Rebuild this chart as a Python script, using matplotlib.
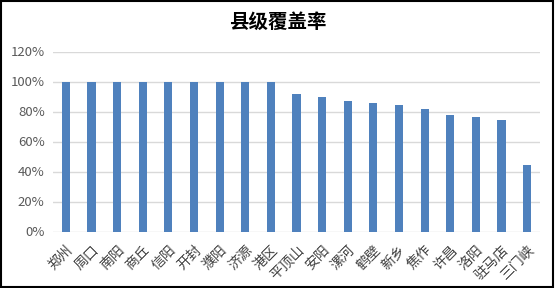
import matplotlib
matplotlib.use("Agg")
import matplotlib.pyplot as plt
from matplotlib.ticker import PercentFormatter

plt.rcParams['font.family'] = ['Noto Sans CJK SC', 'DejaVu Sans']

categories = ["郑州", "周口", "南阳", "商丘", "信阳", "开封", "濮阳", "济源", "港区",
              "平顶山", "安阳", "漯河", "鹤壁", "新乡", "焦作", "许昌", "洛阳", "驻马店", "三门峡"]
values = [100, 100, 100, 100, 100, 100, 100, 100, 100,
          91.5, 89.5, 87, 85.5, 84.2, 81.5, 77.5, 76.2, 74.2, 44.2]
yticks = [0, 20, 40, 60, 80, 100, 120]
title = "县级覆盖率"

fig = plt.figure(figsize=(5.55, 2.88), dpi=100)
ax = fig.add_axes([53/555, 1 - 231.5/288, (540-53)/555, (231.5-51.5)/288])
x = list(range(len(categories)))
ax.bar(x, values, width=0.32, color="#4F81BD", zorder=3)
ax.set_xlim(-0.5, len(categories) - 0.5)
ax.set_ylim(0, 120)
ax.set_yticks(yticks)
ax.yaxis.set_major_formatter(PercentFormatter(decimals=0))
ax.grid(axis="y", color="#D9D9D9", linewidth=1, zorder=0)
for s in ax.spines.values():
    s.set_visible(False)
ax.tick_params(axis="both", length=0)
ax.tick_params(axis="y", labelsize=9.5, labelcolor="#595959", pad=6)
ax.set_xticks(x)
ax.set_xticklabels(categories, rotation=45, ha="right", rotation_mode="anchor",
                   fontsize=10, color="#404040")
ax.tick_params(axis="x", pad=8)
fig.text(0.5, 1 - 22/288, title, ha="center", va="center", fontsize=14, fontweight="bold")
fig.patches.append(plt.Rectangle((0.002, 0.003), 0.994, 0.993, transform=fig.transFigure,
                                 fill=False, edgecolor="black", linewidth=1.5))
fig.savefig("out.png", dpi=100)
